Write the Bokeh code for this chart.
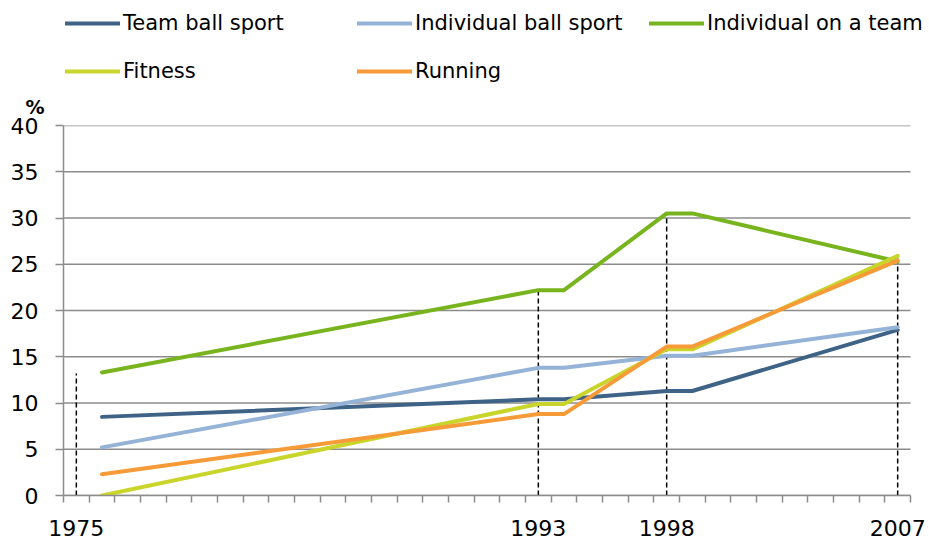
from bokeh.plotting import figure
from bokeh.models import FixedTicker, Legend, LegendItem, Range1d
from bokeh.layouts import column
from bokeh.embed import file_html
from bokeh.resources import INLINE

years = [1976, 1993, 1994, 1998, 1999, 2007]
team_ball = [8.5, 10.4, 10.4, 11.3, 11.3, 17.9]
individual_ball = [5.2, 13.8, 13.8, 15.1, 15.1, 18.2]
individual_team = [13.3, 22.2, 22.2, 30.5, 30.5, 25.3]
fitness = [0.0, 9.9, 9.9, 15.8, 15.8, 25.9]
running = [2.3, 8.8, 8.8, 16.1, 16.1, 25.4]

series_names = ["Team ball sport", "Individual ball sport", "Individual on a team", "Fitness", "Running"]
series_colors = ["#3f6386", "#95b3d7", "#78b41e", "#c9d52b", "#f79a38"]

drop_years = [1975, 1993, 1998, 2007]
drop_tops = [13.2, 22.1, 30.5, 25.9]

label_years = [1975, 1993, 1998, 2007]
y_ticks = [0, 5, 10, 15, 20, 25, 30, 35, 40]
x_start, x_end = 1974.5, 2007.5

FONT = "DejaVu Sans"
GRID = "#8c8c8c"
W = 929
H_HEAD = 85
H_MAIN = 539 - H_HEAD
LEFT, AXIS_RIGHT = 63, 910
# the frame runs to the right edge so the legend is not cut; the axis stops at x_end
view_end = x_start + (W - LEFT) * (x_end - x_start) / (AXIS_RIGHT - LEFT)

# ---- header: legend ----
head = figure(width=W, height=H_HEAD, output_backend="svg", toolbar_location=None,
              x_range=Range1d(0, 1), y_range=Range1d(0, 1),
              x_axis_type=None, y_axis_type=None,
              min_border_left=0, min_border_right=0, min_border_top=0, min_border_bottom=0)
head.grid.visible = False
head.outline_line_color = None

# ---- main chart ----
p = figure(width=W, height=H_MAIN, output_backend="svg", toolbar_location=None,
           x_range=Range1d(x_start, view_end), y_range=Range1d(0, 40),
           min_border_left=LEFT, min_border_right=0, min_border_top=39, min_border_bottom=44,
           title="%")
p.outline_line_color = None
p.title.text_font = FONT
p.title.text_font_size = "19px"
p.title.text_font_style = "bold"
p.title.text_color = "black"
p.title.align = "left"
p.title.offset = -38
p.title.standoff = 16

minor = [x_start + i for i in range(int(x_end - x_start) + 1)]
p.xaxis.bounds = (x_start, x_end)
p.xaxis.ticker = FixedTicker(ticks=label_years, minor_ticks=minor)
p.xaxis.major_tick_out = 0
p.xaxis.major_tick_in = 0
p.xaxis.minor_tick_out = 7
p.xaxis.minor_tick_in = 0
p.xaxis.minor_tick_line_color = GRID
p.xaxis.minor_tick_line_width = 1.5
p.xaxis.axis_line_color = GRID
p.xaxis.axis_line_width = 1.5
p.xaxis.major_label_standoff = 17
p.xaxis.major_label_text_font = FONT
p.xaxis.major_label_text_font_size = "22px"
p.xaxis.major_label_text_color = "black"

p.yaxis.bounds = (0, 40)
p.yaxis.ticker = FixedTicker(ticks=y_ticks)
p.yaxis.major_tick_out = 8
p.yaxis.major_tick_in = 0
p.yaxis.minor_tick_line_color = None
p.yaxis.major_tick_line_color = GRID
p.yaxis.major_tick_line_width = 1.5
p.yaxis.axis_line_color = GRID
p.yaxis.axis_line_width = 1.5
p.yaxis.major_label_standoff = 17
p.yaxis.major_label_text_font = FONT
p.yaxis.major_label_text_font_size = "22px"
p.yaxis.major_label_text_color = "black"

p.grid.visible = False
# horizontal gridlines, limited to the axis extent
p.segment(x0=[x_start] * len(y_ticks), y0=y_ticks, x1=[x_end] * len(y_ticks), y1=y_ticks,
          line_color=GRID, line_width=1.5)

p.segment(x0=drop_years, y0=[0] * len(drop_years), x1=drop_years, y1=drop_tops,
          line_color="black", line_width=1.5, line_dash="5 3")

items = []
nan = float("nan")
for name, vals, col in zip(series_names,
                           [team_ball, individual_ball, individual_team, fitness, running],
                           series_colors):
    p.line(years, vals, line_color=col, line_width=4, line_cap="round", line_join="round")
    proxy = head.line(x=[nan], y=[nan], line_color=col, line_width=4, line_cap="round")
    items.append(LegendItem(label=name, renderers=[proxy]))

legend = Legend(items=items, location=(2, 1), orientation="horizontal", ncols=3,
                glyph_width=55, glyph_height=26, label_height=26, label_width=212,
                label_standoff=3, spacing=22, padding=0, margin=0,
                label_text_font=FONT, label_text_font_size="21px", label_text_color="black",
                background_fill_alpha=0, border_line_alpha=0)
head.add_layout(legend, "center")

layout = column(head, p, spacing=0)
open("out.html", "w").write(file_html(layout, INLINE))
